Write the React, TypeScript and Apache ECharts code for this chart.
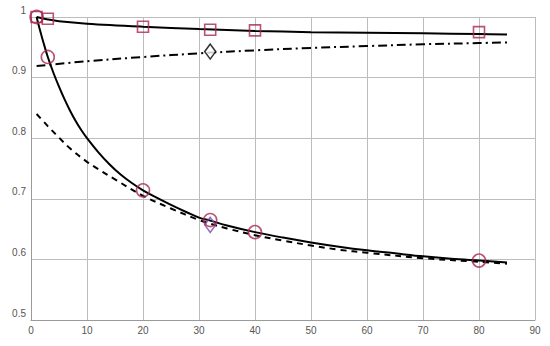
import React, { useEffect, useRef } from "react";
import * as echarts from "echarts";

// Curves (x, value)
const upperSolid: [number, number][] = [
  [1, 1.0], [3, 0.996], [5, 0.993], [10, 0.989], [20, 0.984], [30, 0.98],
  [40, 0.977], [50, 0.975], [60, 0.974], [70, 0.973], [80, 0.972], [85, 0.971],
];
const upperDashDot: [number, number][] = [
  [1, 0.919], [10, 0.927], [20, 0.934], [30, 0.94], [40, 0.945], [50, 0.949],
  [60, 0.952], [70, 0.955], [80, 0.957], [85, 0.958],
];
const lowerSolid: [number, number][] = [
  [1, 1.0], [1.5, 0.982], [2, 0.965], [2.5, 0.949], [3, 0.934], [4, 0.908],
  [5, 0.885], [6, 0.864], [7, 0.845], [8, 0.828], [9, 0.813], [10, 0.8],
  [12, 0.777], [14, 0.757], [16, 0.74], [18, 0.726], [20, 0.714], [22, 0.704],
  [25, 0.69], [28, 0.677], [30, 0.669], [32, 0.664], [35, 0.656], [40, 0.645],
  [45, 0.636], [50, 0.628], [55, 0.621], [60, 0.615], [65, 0.61], [70, 0.605],
  [75, 0.601], [80, 0.598], [85, 0.595],
];
const lowerDashed: [number, number][] = [
  [1, 0.84], [3, 0.82], [5, 0.801], [7, 0.783], [10, 0.761], [12, 0.749],
  [15, 0.732], [20, 0.705], [25, 0.684], [30, 0.665], [32, 0.659], [35, 0.651],
  [40, 0.64], [45, 0.631], [50, 0.623], [55, 0.616], [60, 0.611], [70, 0.602],
  [80, 0.596], [85, 0.593],
];

// Markers
const squarePoints: [number, number][] = [
  [1, 1.0], [3, 0.997], [20, 0.984], [32, 0.979], [40, 0.978], [80, 0.975],
];
const circlePoints: [number, number][] = [
  [1, 1.0], [3, 0.934], [20, 0.714], [32, 0.665], [40, 0.645], [80, 0.598],
];
const blackDiamond: [number, number][] = [[32, 0.943]];
const purpleDiamond: [number, number][] = [[32, 0.657]];

const xTicks = [0, 10, 20, 30, 40, 50, 60, 70, 80, 90];
const yTicks = [0.5, 0.6, 0.7, 0.8, 0.9, 1];

const crimson = "#a8284f";
const purple = "#7d4aa6";

export default function App() {
  const ref = useRef<HTMLDivElement>(null);
  useEffect(() => {
    if (!ref.current) return;
    const chart = echarts.init(ref.current, undefined, { renderer: "svg" });
    const lineBase = (data: [number, number][], type: any, name: string) => ({
      name,
      type: "line",
      data,
      smooth: 0.35,
      showSymbol: false,
      symbol: "none",
      lineStyle: { color: "#000", width: 2, type },
      z: 2,
    });
    chart.setOption({
      animation: false,
      grid: { left: 31, right: 15, top: 17, bottom: 26, containLabel: false },
      xAxis: {
        type: "value",
        min: xTicks[0],
        max: xTicks[xTicks.length - 1],
        interval: 10,
        axisLine: { show: true, lineStyle: { color: "#9a9a9a", width: 1 } },
        axisTick: { show: false },
        splitLine: { show: true, lineStyle: { color: "#bdbdbd", width: 1 } },
        axisLabel: {
          color: "#555",
          fontSize: 10,
          fontFamily: "Liberation Sans, Arial, sans-serif",
          margin: 5,
        },
      },
      yAxis: {
        type: "value",
        min: yTicks[0],
        max: yTicks[yTicks.length - 1],
        interval: 0.1,
        axisLine: { show: true, lineStyle: { color: "#9a9a9a", width: 1 } },
        axisTick: { show: false },
        splitLine: { show: true, lineStyle: { color: "#bdbdbd", width: 1 } },
        axisLabel: {
          color: "#555",
          fontSize: 10,
          fontFamily: "Liberation Sans, Arial, sans-serif",
          margin: 5,
          verticalAlign: "bottom",
          padding: [0, 0, 2, 0],
          formatter: (v: number) => String(Math.round(v * 10) / 10),
        },
      },
      series: [
        lineBase(upperSolid, "solid", "upperSolid"),
        lineBase(upperDashDot, [9, 4, 2, 4], "upperDashDot"),
        lineBase(lowerSolid, "solid", "lowerSolid"),
        lineBase(lowerDashed, [6, 5], "lowerDashed"),
        {
          type: "scatter",
          data: squarePoints,
          symbol: "rect",
          symbolSize: 11,
          itemStyle: { color: "rgba(255,255,255,0)", borderColor: crimson, borderWidth: 1.6 },
          z: 3,
        },
        {
          type: "scatter",
          data: circlePoints,
          symbol: "circle",
          symbolSize: 13,
          itemStyle: { color: "rgba(255,255,255,0)", borderColor: crimson, borderWidth: 1.6 },
          z: 3,
        },
        {
          type: "scatter",
          data: blackDiamond,
          symbol: "diamond",
          symbolSize: [11, 15],
          itemStyle: { color: "#fff", borderColor: "#000", borderWidth: 1.6 },
          z: 4,
        },
        {
          type: "scatter",
          data: purpleDiamond,
          symbol: "diamond",
          symbolSize: [11, 15],
          itemStyle: { color: "rgba(255,255,255,0)", borderColor: purple, borderWidth: 1.6 },
          z: 2,
        },
      ],
    });
    return () => chart.dispose();
  }, []);
  return (
    <div
      ref={ref}
      style={{ position: "absolute", left: 0, top: 0, width: 550, height: 346 }}
    />
  );
}
